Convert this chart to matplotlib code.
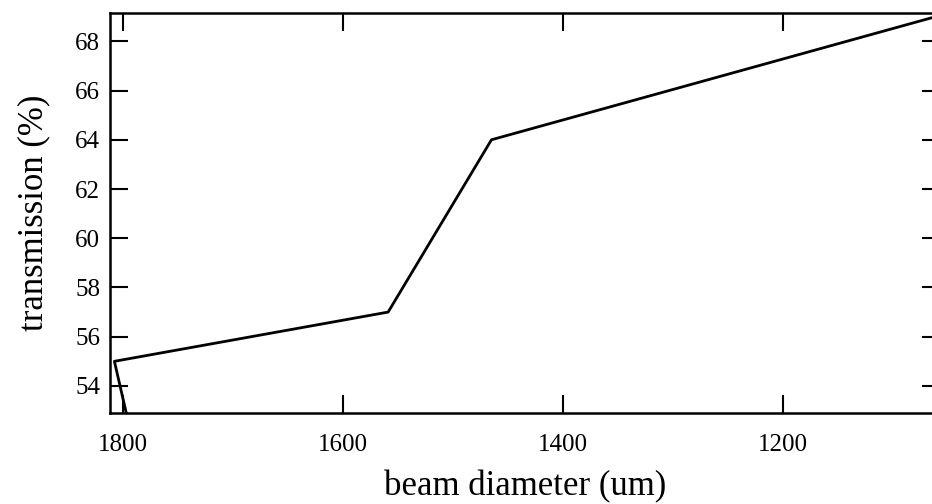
import numpy as np
import matplotlib.pyplot as plt

plt.rcParams['font.family'] = ['Liberation Serif', 'DejaVu Serif']

# beam diameter (um) and transmission (%)
diameter = [1790, 1808, 1559, 1465, 1057]
transmission = [51.5, 55.0, 57.0, 64.0, 69.05]

xticks = [1800, 1600, 1400, 1200]
yticks = [54, 56, 58, 60, 62, 64, 66, 68]

fig = plt.figure(figsize=(9.32, 5.04), dpi=100)
ax = fig.add_axes([110/932, 91/504, 830/932, 400/504])

ax.plot(diameter, transmission, color='black', lw=2.0)

ax.set_xlim(1812, 1057)
ax.set_ylim(52.9, 69.15)
ax.set_xticks(xticks)
ax.set_yticks(yticks)

ax.tick_params(direction='in', length=13, width=1.5, labelsize=18,
               top=True, right=True)
ax.tick_params(axis='x', pad=15)
ax.tick_params(axis='y', pad=7)
for s in ax.spines.values():
    s.set_linewidth(1.8)

ax.set_xlabel('beam diameter (um)', fontsize=25, labelpad=10)
ax.set_ylabel('transmission (%)', fontsize=25, labelpad=18)

fig.savefig('out.png', dpi=100)
